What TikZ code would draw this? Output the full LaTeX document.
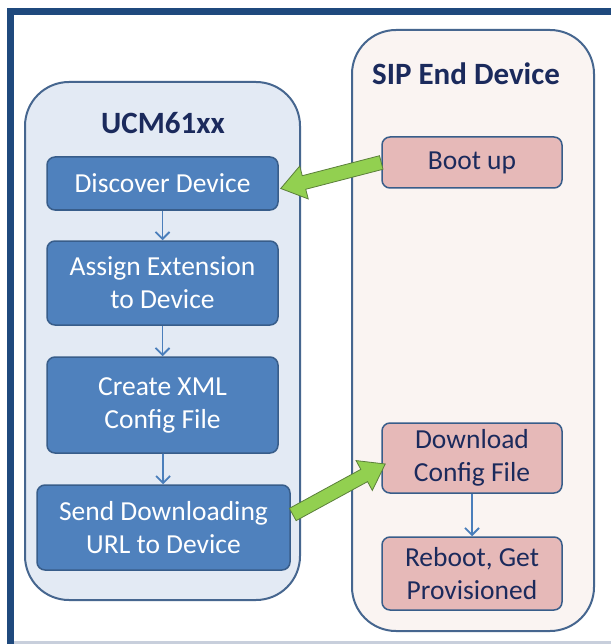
\documentclass[tikz,border=0pt]{standalone}
\usepackage{fontspec}
\setmainfont{Carlito}
\usetikzlibrary{calc,arrows.meta}
\definecolor{frameblue}{HTML}{1F497D}
\definecolor{contborder}{HTML}{46668F}
\definecolor{leftfill}{HTML}{E3EAF4}
\definecolor{rightfill}{HTML}{FAF4F2}
\definecolor{bluebox}{HTML}{4F81BD}
\definecolor{blueborder}{HTML}{385D8A}
\definecolor{pinkbox}{HTML}{E6B9B8}
\definecolor{navytext}{HTML}{1B2A5C}
\definecolor{arrowgreen}{HTML}{92D050}
\definecolor{greenborder}{HTML}{5B7F3A}
\definecolor{thinarrow}{HTML}{4A7EBB}
\definecolor{bottomline}{HTML}{C8CFDC}
\newcommand\greenarrow[5]{% start, tip, shaft half width, head half width, head length
  \path ($(#2)!#5!(#1)$) coordinate (gaH);
  \filldraw[fill=arrowgreen,draw=greenborder,line width=0.8pt,line join=miter]
    ($(#1)!#3!90:(#2)$) -- ($(gaH)!#3!-90:(#1)$) -- ($(gaH)!#4!-90:(#1)$) -- (#2)
    -- ($(gaH)!#4!90:(#1)$) -- ($(gaH)!#3!90:(#1)$) -- ($(#1)!#3!-90:(#2)$) -- cycle;}
\tikzset{
  container/.style={draw=contborder,line width=2pt,rounded corners=44pt},
  bluestep/.style={draw=blueborder,fill=bluebox,line width=1.5pt,rounded corners=8pt,
    text=white,align=center,font=\fontsize{27.5}{33}\selectfont,inner sep=0pt},
  pinkstep/.style={draw=blueborder,fill=pinkbox,line width=1.5pt,rounded corners=8pt,
    text=navytext,align=center,font=\fontsize{27.5}{33}\selectfont,inner sep=0pt},
  title/.style={text=navytext,font=\fontsize{31}{34}\selectfont\bfseries},
  flow/.style={draw=thinarrow,line width=1.8pt,-{Straight Barb[length=7pt,width=14pt,line width=1.8pt]}}
}
\begin{document}
\begin{tikzpicture}[x=1pt,y=-1pt]
\useasboundingbox (0,0) rectangle (611,644);
% frame
\fill[white] (0,0) rectangle (611,644);
\fill[frameblue] (7,8) rectangle (611,15);
\fill[frameblue] (7,8) rectangle (14,644);
\fill[bottomline] (14,641) rectangle (611,644);
% containers
\draw[container,fill=leftfill] (25,82) rectangle (300,600);
\draw[container,fill=rightfill] (352,30) rectangle (594,631);
\node[title] (ucm) at (163,123) {UCM61xx};
\node[title] (sip) at (466,74) {SIP End Device};
% left boxes
\node[bluestep,minimum width=231pt,minimum height=53pt] (disc) at (162.5,183.5) {Discover Device};
\node[bluestep,minimum width=231pt,minimum height=84pt] (assign) at (162.5,283) {Assign Extension\\to Device};
\node[bluestep,minimum width=231pt,minimum height=96pt] (create) at (162.5,405) {Create XML\\Config File};
\node[bluestep,minimum width=253pt,minimum height=85pt] (send) at (163.5,527.5) {Send Downloading\\URL to Device};
% right boxes
\node[pinkstep,minimum width=180pt,minimum height=51pt] (boot) at (472,162.5) {Boot up};
\node[pinkstep,minimum width=180pt,minimum height=70pt] (down) at (472,458) {Download\\Config File};
\node[pinkstep,minimum width=180pt,minimum height=73pt] (reboot) at (472,573.5) {Reboot, Get\\Provisioned};
% thin arrows
\draw[flow] (disc) -- (assign);
\draw[flow] (assign) -- (create);
\draw[flow] (create) -- (send);
\draw[flow] (down) -- (reboot);
% green arrows
\coordinate (g1s) at ($(boot.west)+(0,0)$);
\coordinate (g1t) at ($(disc.east)+(2,5)$);
\greenarrow{g1s}{g1t}{7pt}{17pt}{24pt}
\coordinate (g2s) at ($(send.east)+(2,-13)$);
\coordinate (g2t) at ($(down.west)+(4,6)$);
\greenarrow{g2s}{g2t}{7pt}{17pt}{24pt}
\end{tikzpicture}
\end{document}
